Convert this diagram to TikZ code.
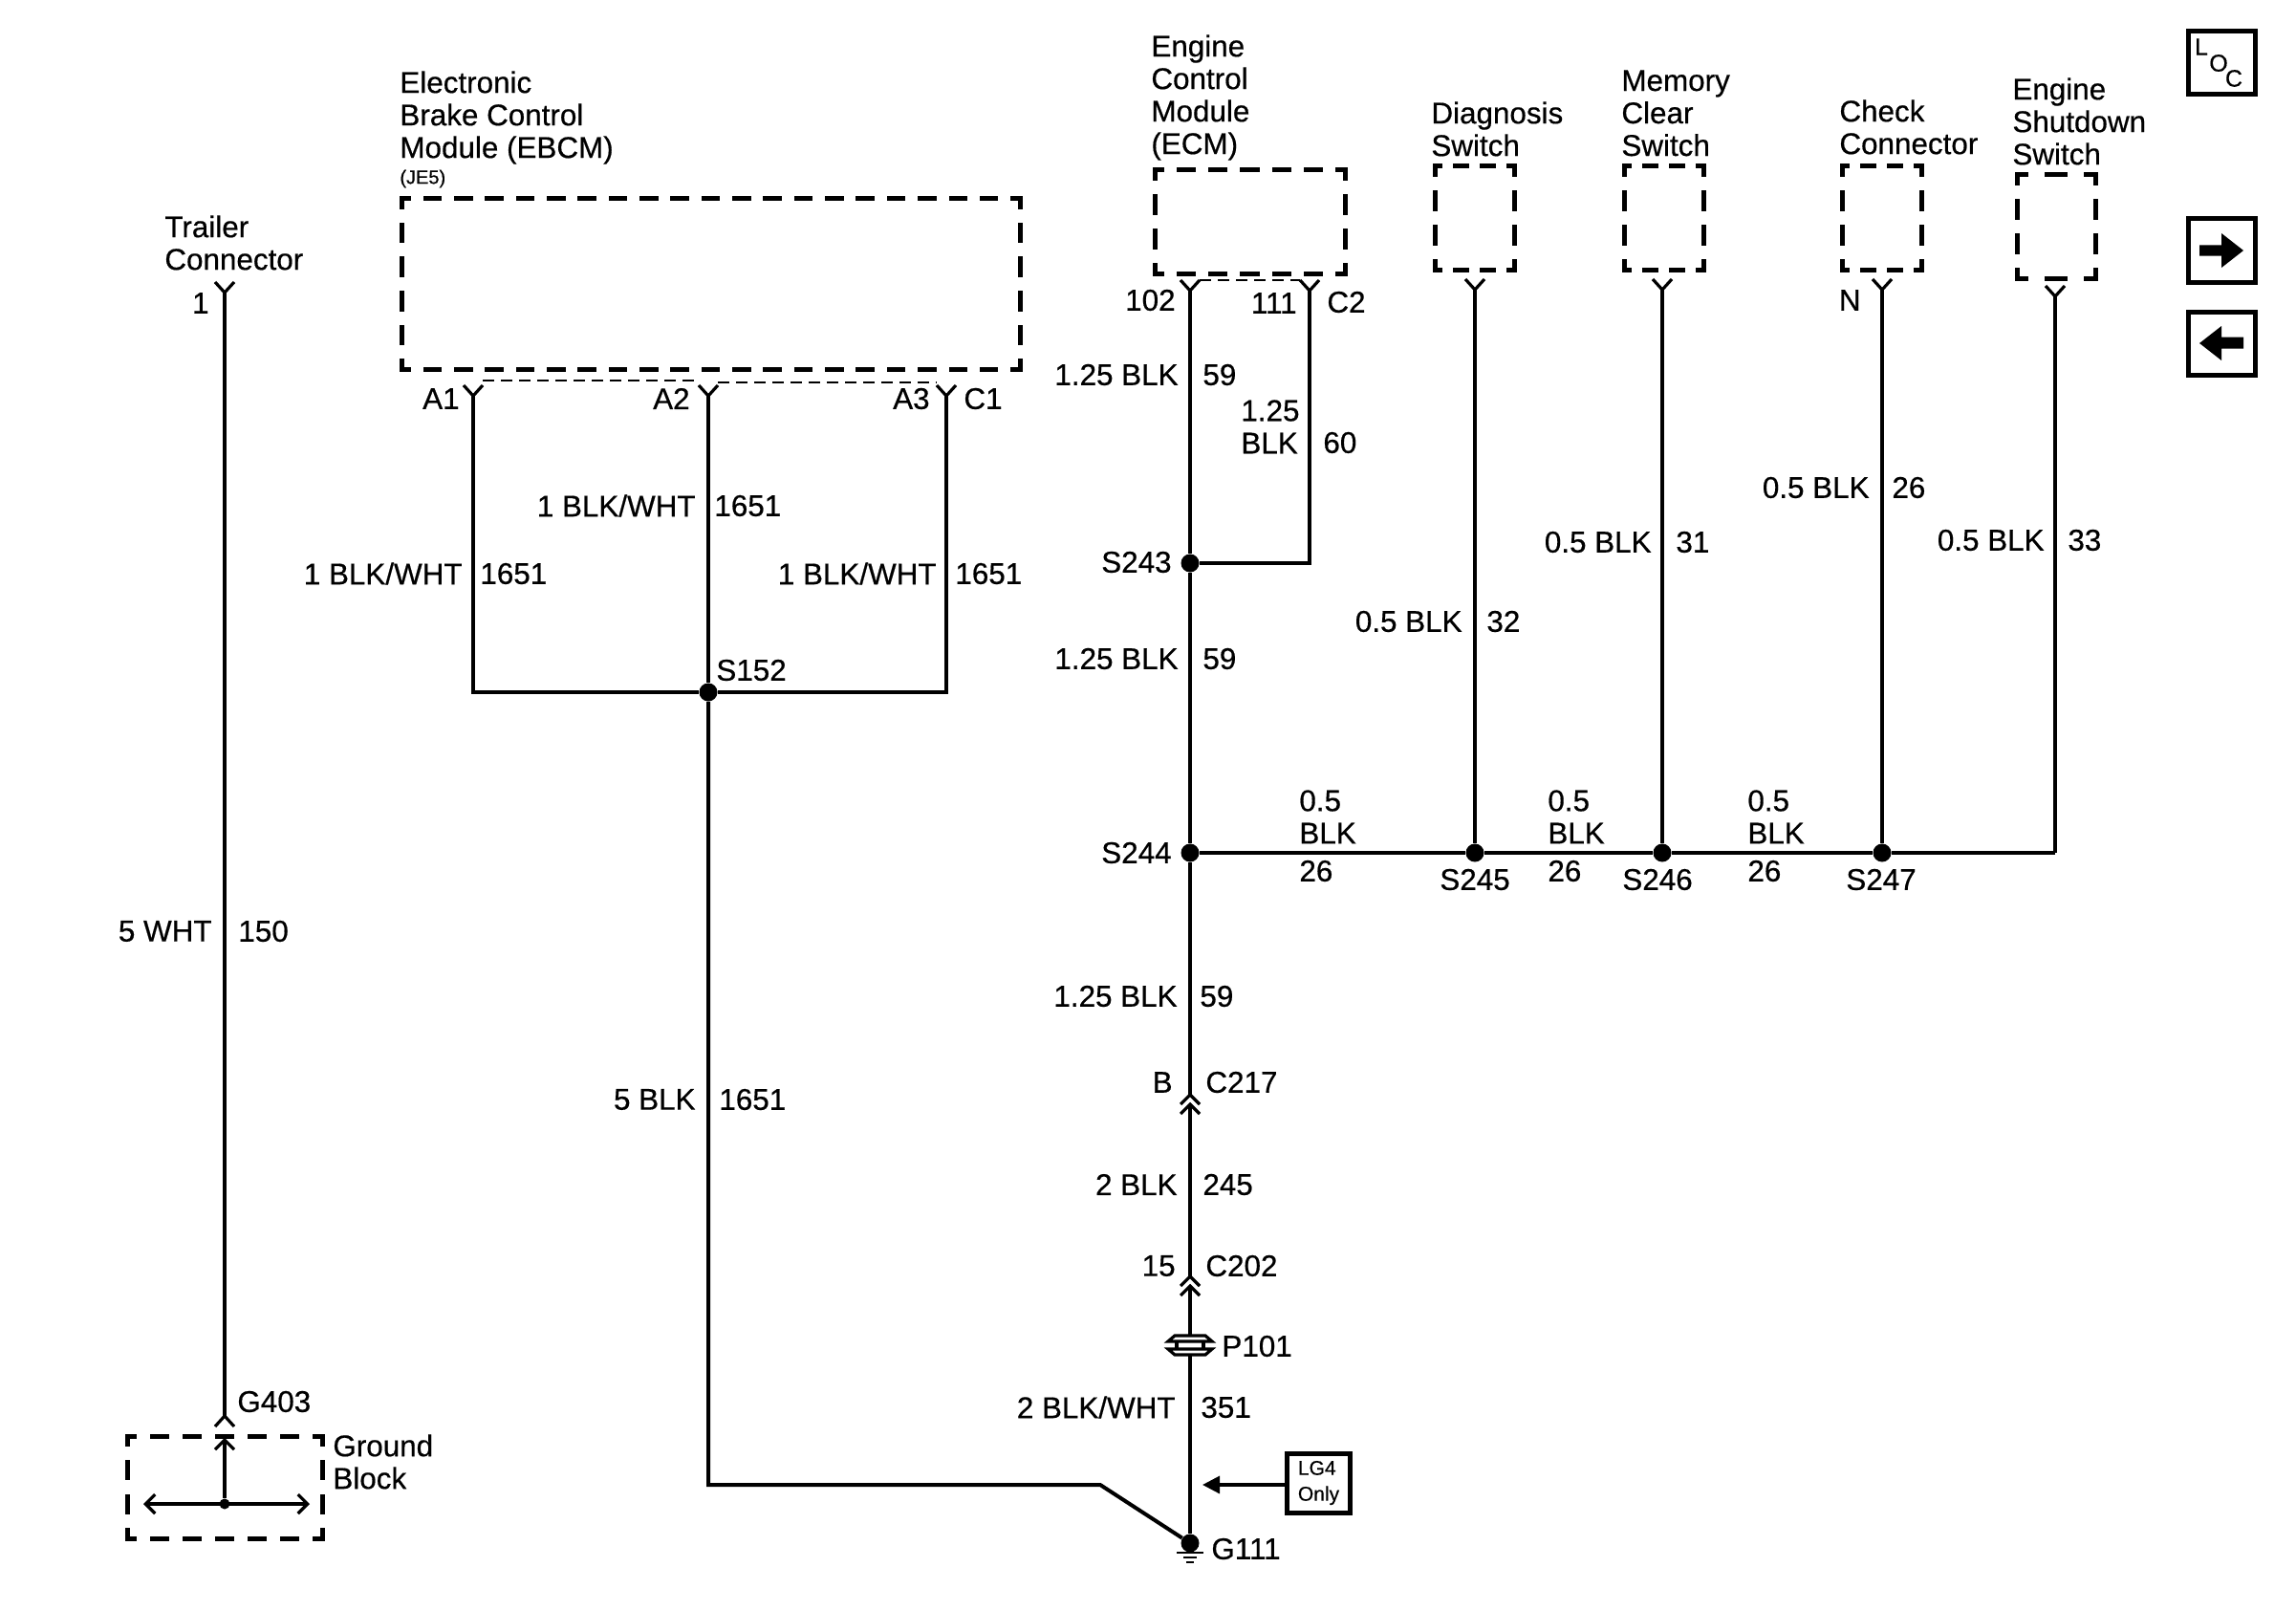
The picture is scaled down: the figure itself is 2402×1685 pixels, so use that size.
\documentclass[tikz,border=0pt]{standalone}
\usepackage{fontspec}
\setmainfont[FakeBold=0.5]{Liberation Sans}
\usetikzlibrary{arrows.meta}

\newcommand{\dashside}[4]{%
\pgfmathsetmacro{\sidelen}{veclen(#3-#1,#4-#2)}
\pgfmathsetmacro{\sideper}{\sidelen/max(1,round(\sidelen/33))/2}
\pgfmathsetmacro{\sideon}{0.606*\sideper-2.5}
\pgfmathsetmacro{\sideoff}{0.394*\sideper+2.5}
\pgfmathsetmacro{\sidephase}{0.303*\sideper-1.25}
\draw[boxline,dash pattern=on \sideon pt off \sideoff pt,dash phase=\sidephase pt] (#1,#2) -- (#3,#4);}
\newcommand{\dashedbox}[5]{%
\coordinate (#1) at ({(#2+#4)/2},{(#3+#5)/2});
\dashside{#2}{#3}{#4}{#3}
\dashside{#4}{#3}{#4}{#5}
\dashside{#4}{#5}{#2}{#5}
\dashside{#2}{#5}{#2}{#3}}

\tikzset{
  wire/.style={line width=2pt},
  boxline/.style={line width=2.5pt,line cap=rect},
  pinline/.style={line width=1.6pt},
  bus/.style={line width=1.2pt,dash pattern=on 6pt off 3.5pt},
  lbl/.style={inner sep=0pt,font=\fontsize{15.7}{17}\selectfont,align=left},
  tinylbl/.style={inner sep=0pt,font=\fontsize{10}{12}\selectfont},
  splice/.style={circle,fill=black,inner sep=0pt,minimum size=9.5pt},
  iconbox/.style={draw,line width=2.5pt,inner sep=0pt,minimum width=35pt,minimum height=33pt},
  pics/ypin/.style={code={\draw[pinline] (-10,-11) -- (0,0) -- (10,-11);}},
  pics/cpin/.style={code={\draw[pinline] (-10,10) -- (0,0) -- (10,10);}},
  pics/clipfix/.style={code={
    \draw[pinline] (-16,-10) -- (16,-10) -- (23,-4) -- (-23,-4) -- cycle;
    \draw[pinline] (-23,4) -- (23,4) -- (16,10) -- (-16,10) -- cycle;
    \draw[pinline] (-14,-4) -- (-14,4) (14,-4) -- (14,4);}},
}

\begin{document}
\begin{tikzpicture}[x=0.5pt,y=-0.5pt]
\useasboundingbox (0,0) rectangle (2402,1685);

\dashedbox{ebcm}{420}{208}{1067}{386}
\dashedbox{ecm}{1208}{178}{1407}{286}
\dashedbox{diag}{1501}{174}{1584}{282}
\dashedbox{memory}{1699}{174}{1782}{282}
\dashedbox{check}{1927}{174}{2010}{282}
\dashedbox{shutdown}{2110}{183}{2192}{291}
\dashedbox{groundblock}{133}{1502}{337}{1609}

\node[lbl,anchor=north west] (ebcmtext) at (418,74) {Electronic\\Brake Control\\Module (EBCM)};
\node[tinylbl,anchor=west] (je5) at (418,187) {(JE5)};
\node[lbl,anchor=north west] (ecmtext) at (1204,36) {Engine\\Control\\Module\\(ECM)};
\node[lbl,anchor=north west] (diagtext) at (1497,106) {Diagnosis\\Switch};
\node[lbl,anchor=north west] (memorytext) at (1696,73) {Memory\\Clear\\Switch};
\node[lbl,anchor=north west] (checktext) at (1924,104) {Check\\Connector};
\node[lbl,anchor=north west] (shutdowntext) at (2105,81) {Engine\\Shutdown\\Switch};
\node[lbl,anchor=north west] (trailertext) at (172,225) {Trailer\\Connector};
\node[lbl,anchor=north west] (groundtext) at (348,1500) {Ground\\Block};

\coordinate (pintrailer) at (235,306);
\coordinate (pina1) at (495,414);
\coordinate (pina2) at (741,414);
\coordinate (pina3) at (990,414);
\coordinate (pin102) at (1245,304);
\coordinate (pin111) at (1370,304);
\coordinate (pindiag) at (1543,303);
\coordinate (pinmemory) at (1739,303);
\coordinate (pinn) at (1969,303);
\coordinate (pinshutdown) at (2150,310);
\foreach \p in {pintrailer,pina1,pina2,pina3,pin102,pin111,pindiag,pinmemory,pinn,pinshutdown}
  \pic at (\p) {ypin};
\draw[bus] (505,398) -- (731,398);
\draw[bus,line width=0.9pt] (751,400) -- (980,400);
\draw[bus] (1255,293) -- (1360,293);

\node[splice] (s152) at (741,724) {};
\node[splice] (s243) at (1245,589) {};
\node[splice] (s244) at (1245,892) {};
\node[splice] (s245) at (1543,892) {};
\node[splice] (s246) at (1739,892) {};
\node[splice] (s247) at (1969,892) {};
\node[splice] (g111) at (1245,1614) {};

\draw[wire] (pina1) |- (s152);
\draw[wire] (pina3) |- (s152);
\draw[wire] (pina2) -- (s152);
\coordinate (bendb) at (741,1553);
\coordinate (bendc) at (1151,1553);
\draw[wire] (s152) -- (bendb) -- (bendc) -- (g111);
\draw[wire] (pin102) -- (s243);
\draw[wire] (pin111) |- (s243);
\draw[wire] (s243) -- (s244);
\draw[wire] (pindiag) -- (s245);
\draw[wire] (pinmemory) -- (s246);
\draw[wire] (pinn) -- (s247);
\coordinate (busend) at (2150,892);
\draw[wire] (pinshutdown) -- (busend);
\draw[wire] (s244) -- (s245) -- (s246) -- (s247) -- (busend);

\coordinate (c217) at (1245,1145);
\coordinate (c217low) at (1245,1155);
\coordinate (c202) at (1245,1335);
\coordinate (c202low) at (1245,1345);
\coordinate (p101) at (1245,1407);
\draw[wire] (s244) -- (c217);
\pic at (c217) {cpin};
\pic at (c217low) {cpin};
\draw[wire] (c217low) -- (c202);
\pic at (c202) {cpin};
\pic at (c202low) {cpin};
\draw[wire] (c202low) -- (1245,1397);
\pic at (p101) {clipfix};
\draw[wire] (1245,1417) -- (g111);
\draw[line width=1.2pt] (1231,1624) -- (1259,1624) (1238,1629) -- (1252,1629) (1241,1634) -- (1249,1634);

\coordinate (g403) at (235,1481);
\coordinate (blocktop) at (235,1506);
\node[splice,minimum size=5.5pt] (blockhub) at (235,1573) {};
\coordinate (blockleft) at (150,1573);
\coordinate (blockright) at (324,1573);
\draw[wire] (pintrailer) -- (g403);
\pic[yscale=-1] at (g403) {ypin};
\pic at (blocktop) {cpin};
\draw[wire,line width=1.6pt] (blockhub) -- (blocktop);
\draw[pinline,{Straight Barb[length=5pt,width=10pt]}-{Straight Barb[length=5pt,width=10pt]}] (blockleft) -- (blockright);

\node[draw,line width=2.5pt,inner sep=0pt,minimum width=33pt,minimum height=31pt] (lg4) at (1379.5,1551) {};
\node[inner sep=0pt,font=\fontsize{10.5}{13.5}\selectfont,align=left] (lg4text) at (lg4) {LG4\\Only};
\coordinate (lg4tip) at (1258,1553);
\draw[pinline,-{Triangle[length=9pt,width=9pt]}] (lg4.west |- lg4tip) -- (lg4tip);

\node[lbl,anchor=east] (n1) at (219,317) {1};
\node[lbl,anchor=east] (t5wht) at (222,974) {5 WHT};
\node[lbl,anchor=west] (t150) at (249,974) {150};
\node[lbl,anchor=west] (tg403) at (248,1466) {G403};

\node[lbl,anchor=east] (ta1) at (481,417) {A1};
\node[lbl,anchor=east] (ta2) at (722,417) {A2};
\node[lbl,anchor=east] (ta3) at (973,417) {A3};
\node[lbl,anchor=west] (tc1) at (1008,417) {C1};
\node[lbl,anchor=east] (wa1) at (484,600) {1 BLK/WHT};
\node[lbl,anchor=west] (ca1) at (502,600) {1651};
\node[lbl,anchor=east] (wa2) at (728,529) {1 BLK/WHT};
\node[lbl,anchor=west] (ca2) at (747,529) {1651};
\node[lbl,anchor=east] (wa3) at (980,600) {1 BLK/WHT};
\node[lbl,anchor=west] (ca3) at (999,600) {1651};
\node[lbl,anchor=west] (ts152) at (749,701) {S152};
\node[lbl,anchor=east] (w5blk) at (728,1150) {5 BLK};
\node[lbl,anchor=west] (c1651) at (752,1150) {1651};

\node[lbl,anchor=east] (t102) at (1230,314) {102};
\node[lbl,anchor=east] (t111) at (1357,317) {111};
\node[lbl,anchor=west] (tc2) at (1388,316) {C2};
\node[lbl,anchor=east] (w59a) at (1233,392) {1.25 BLK};
\node[lbl,anchor=west] (c59a) at (1258,392) {59};
\node[lbl,anchor=north west] (w60) at (1298,418) {1.25\\BLK};
\node[lbl,anchor=west] (c60) at (1384,463) {60};
\node[lbl,anchor=east] (ts243) at (1226,588) {S243};
\node[lbl,anchor=east] (w59b) at (1233,689) {1.25 BLK};
\node[lbl,anchor=west] (c59b) at (1258,689) {59};
\node[lbl,anchor=east] (ts244) at (1226,892) {S244};
\node[lbl,anchor=east] (w59c) at (1232,1042) {1.25 BLK};
\node[lbl,anchor=west] (c59c) at (1255,1042) {59};
\node[lbl,anchor=east] (tb) at (1227,1132) {B};
\node[lbl,anchor=west] (tc217) at (1261,1132) {C217};
\node[lbl,anchor=east] (w245) at (1232,1239) {2 BLK};
\node[lbl,anchor=west] (c245) at (1258,1239) {245};
\node[lbl,anchor=east] (t15) at (1230,1324) {15};
\node[lbl,anchor=west] (tc202) at (1261,1324) {C202};
\node[lbl,anchor=west] (tp101) at (1278,1408) {P101};
\node[lbl,anchor=east] (w351) at (1230,1472) {2 BLK/WHT};
\node[lbl,anchor=west] (c351) at (1256,1472) {351};
\node[lbl,anchor=west] (tg111) at (1267,1620) {G111};

\node[lbl,anchor=north west] (wbus1) at (1359,826) {0.5\\BLK};
\node[lbl,anchor=west] (cbus1) at (1359,911) {26};
\node[lbl,anchor=north west] (wbus2) at (1619,826) {0.5\\BLK};
\node[lbl,anchor=west] (cbus2) at (1619,911) {26};
\node[lbl,anchor=north west] (wbus3) at (1828,826) {0.5\\BLK};
\node[lbl,anchor=west] (cbus3) at (1828,911) {26};
\node[lbl] (ts245) at (1543,920) {S245};
\node[lbl] (ts246) at (1734,920) {S246};
\node[lbl] (ts247) at (1968,920) {S247};

\node[lbl,anchor=east] (w32) at (1530,650) {0.5 BLK};
\node[lbl,anchor=west] (c32) at (1555,650) {32};
\node[lbl,anchor=east] (w31) at (1728,567) {0.5 BLK};
\node[lbl,anchor=west] (c31) at (1753,567) {31};
\node[lbl,anchor=east] (tn) at (1947,314) {N};
\node[lbl,anchor=east] (w26) at (1956,510) {0.5 BLK};
\node[lbl,anchor=west] (c26) at (1979,510) {26};
\node[lbl,anchor=east] (w33) at (2139,565) {0.5 BLK};
\node[lbl,anchor=west] (c33) at (2163,565) {33};

\node[iconbox] (locbox) at (2324,66) {};
\node[inner sep=0pt,font=\fontsize{12.5}{12}\selectfont] (locl) at (2303,49) {L};
\node[inner sep=0pt,font=\fontsize{12.5}{12}\selectfont] (loco) at (2321,66) {O};
\node[inner sep=0pt,font=\fontsize{12.5}{12}\selectfont] (locc) at (2337,82) {C};
\node[iconbox] (nextbox) at (2324,262) {};
\node[iconbox] (prevbox) at (2324,359) {};
\fill (2301,256.5) -- (2324,256.5) -- (2324,244) -- (2347,262) -- (2324,280) -- (2324,267.5) -- (2301,267.5) -- cycle;
\fill (2347,352.5) -- (2324,352.5) -- (2324,341) -- (2301,359) -- (2324,377) -- (2324,364.5) -- (2347,364.5) -- cycle;
\end{tikzpicture}
\end{document}
